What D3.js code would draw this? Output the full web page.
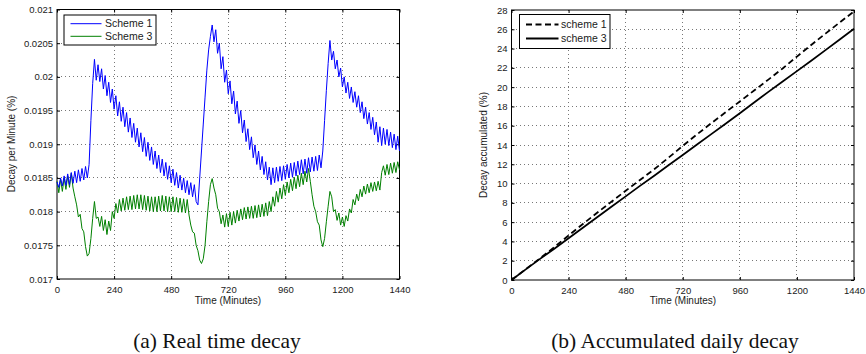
<!DOCTYPE html>
<html>
<head>
<meta charset="utf-8">
<script src="https://cdn.jsdelivr.net/npm/d3@7"></script>
<style>
  html, body { margin: 0; padding: 0; background: #fff; }
  svg { display: block; }
  text { font-family: "Liberation Sans", Arial, Helvetica, sans-serif; fill: #1a1a1a; }
  text.caption { font-family: "Liberation Serif", "Times New Roman", serif; fill: #111; }
</style>
</head>
<body>
<svg id="fig" width="866" height="354"></svg>
<script>
// ---- Real time decay: samples every 7.5 minutes, 0..1440 ----
const sampleStep = 7.5;

const scheme1Rate = [
  .01844,.01836,.01850,.01838,.01853,.01839,.01856,.01840,.01858,.01842,
  .01860,.01843,.01862,.01845,.01864,.01847,.01867,.01850,.01870,.01935,
  .01990,.02026,.01995,.02018,.01993,.02012,.01982,.02002,.01972,.01992,
  .01962,.01982,.01952,.01972,.01942,.01963,.01934,.01955,.01926,.01947,
  .01918,.01939,.01910,.01931,.01903,.01924,.01896,.01917,.01889,.01910,
  .01882,.01903,.01876,.01896,.01870,.01890,.01864,.01884,.01858,.01878,
  .01853,.01873,.01848,.01868,.01843,.01863,.01839,.01858,.01835,.01854,
  .01832,.01850,.01828,.01846,.01825,.01843,.01822,.01840,.01815,.01810,
  .01850,.01890,.01930,.01970,.02010,.02040,.02060,.02077,.02052,.02070,
  .02035,.02050,.02012,.02030,.01992,.02010,.01975,.01994,.01960,.01979,
  .01945,.01964,.01931,.01950,.01917,.01936,.01904,.01923,.01892,.01911,
  .01880,.01899,.01870,.01890,.01862,.01882,.01855,.01874,.01847,.01866,
  .01840,.01865,.01843,.01866,.01845,.01867,.01846,.01868,.01848,.01870,
  .01850,.01872,.01851,.01873,.01853,.01875,.01855,.01877,.01856,.01878,
  .01857,.01880,.01859,.01881,.01860,.01882,.01861,.01884,.01865,.01890,
  .01935,.01980,.02020,.02054,.02025,.02038,.02012,.02025,.02000,.02013,
  .01985,.02000,.01976,.01992,.01968,.01985,.01962,.01978,.01955,.01972,
  .01947,.01963,.01938,.01955,.01930,.01947,.01922,.01940,.01914,.01933,
  .01903,.01926,.01898,.01924,.01900,.01922,.01898,.01918,.01895,.01915,
  .01892,.01912,.01890
];

const scheme3Rate = [
  .01845,.01828,.01848,.01830,.01850,.01833,.01853,.01836,.01857,.01835,
  .01822,.01810,.01792,.01796,.01775,.01770,.01748,.01734,.01738,.01760,
  .01790,.01815,.01790,.01792,.01778,.01793,.01772,.01788,.01766,.01786,
  .01772,.01800,.01790,.01812,.01798,.01818,.01801,.01820,.01802,.01822,
  .01803,.01823,.01803,.01824,.01804,.01825,.01804,.01825,.01803,.01824,
  .01802,.01823,.01801,.01822,.01800,.01822,.01800,.01823,.01801,.01824,
  .01801,.01823,.01800,.01822,.01800,.01822,.01800,.01821,.01799,.01820,
  .01799,.01819,.01798,.01818,.01795,.01780,.01770,.01768,.01750,.01742,
  .01728,.01723,.01730,.01750,.01785,.01815,.01840,.01849,.01835,.01825,
  .01805,.01800,.01782,.01795,.01777,.01797,.01778,.01799,.01780,.01800,
  .01783,.01802,.01786,.01804,.01788,.01806,.01789,.01807,.01790,.01808,
  .01790,.01809,.01791,.01810,.01792,.01811,.01793,.01813,.01794,.01815,
  .01800,.01822,.01808,.01830,.01814,.01835,.01819,.01840,.01824,.01844,
  .01828,.01848,.01831,.01851,.01834,.01854,.01837,.01857,.01840,.01860,
  .01844,.01864,.01845,.01825,.01808,.01800,.01785,.01780,.01758,.01748,
  .01760,.01785,.01808,.01830,.01822,.01800,.01803,.01787,.01798,.01780,
  .01792,.01778,.01794,.01786,.01804,.01798,.01818,.01810,.01826,.01816,
  .01833,.01822,.01838,.01826,.01841,.01828,.01843,.01830,.01844,.01831,
  .01845,.01832,.01858,.01868,.01854,.01870,.01855,.01872,.01857,.01873,
  .01858,.01874,.01862
];

const rateTicks = ["0.017","0.0175","0.018","0.0185","0.019","0.0195","0.02","0.0205","0.021"];
const minuteTicks = [0, 240, 480, 720, 960, 1200, 1440];

// ---- Accumulated daily decay, hourly ----
const accMinutes = [0,60,120,180,240,300,360,420,480,540,600,660,720,780,840,900,960,1020,1080,1140,1200,1260,1320,1380,1440];
const scheme1Acc = [0,1.12,2.25,3.41,4.62,5.81,6.97,8.11,9.25,10.37,11.48,12.68,13.91,15.10,16.26,17.39,18.52,19.65,20.78,21.94,23.17,24.37,25.55,26.71,27.85];
const scheme3Acc = [0,1.10,2.19,3.25,4.33,5.41,6.50,7.59,8.67,9.76,10.82,11.90,12.97,14.05,15.13,16.21,17.30,18.41,19.51,20.58,21.66,22.74,23.84,24.95,26.06];
const accTicks = d3.range(0, 29, 2);

const svg = d3.select("#fig");

function frame(g, x, y, xTicks, yTicks, yLabels) {
  const [x0, x1] = x.range();
  const [y1, y0] = y.range();
  // dotted grid
  const grid = g.append("g").attr("stroke", "#777").attr("stroke-width", 1)
    .attr("stroke-dasharray", "1,3").attr("shape-rendering", "crispEdges");
  grid.selectAll(".gx").data(xTicks.slice(1, -1)).join("line")
    .attr("x1", d => x(d)).attr("x2", d => x(d)).attr("y1", y0).attr("y2", y1);
  grid.selectAll(".gy").data(yTicks.slice(1, -1)).join("line")
    .attr("x1", x0).attr("x2", x1).attr("y1", d => y(d)).attr("y2", d => y(d));

  const fs = "9.5px";
  g.append("g").attr("transform", `translate(0,${y1})`)
    .call(d3.axisBottom(x).tickValues(xTicks).tickSizeInner(-3).tickSizeOuter(0).tickPadding(7)
      .tickFormat(d3.format("d")))
    .call(a => { a.select(".domain").remove(); a.selectAll("text").style("font-size", fs); });
  g.append("g").attr("transform", `translate(0,${y0})`)
    .call(d3.axisTop(x).tickValues(xTicks).tickSizeInner(-3).tickSizeOuter(0).tickFormat(""))
    .call(a => a.select(".domain").remove());
  g.append("g").attr("transform", `translate(${x0},0)`)
    .call(d3.axisLeft(y).tickValues(yTicks).tickSizeInner(-3).tickSizeOuter(0).tickPadding(4)
      .tickFormat((d, i) => yLabels[i]))
    .call(a => { a.select(".domain").remove(); a.selectAll("text").style("font-size", fs); });
  g.append("g").attr("transform", `translate(${x1},0)`)
    .call(d3.axisRight(y).tickValues(yTicks).tickSizeInner(-3).tickSizeOuter(0).tickFormat(""))
    .call(a => a.select(".domain").remove());
  g.selectAll(".tick line").attr("stroke", "#000");
  g.selectAll(".tick text").attr("fill", "#1a1a1a");
  g.append("rect").attr("x", x0).attr("y", y0).attr("width", x1 - x0).attr("height", y1 - y0)
    .attr("fill", "none").attr("stroke", "#000").attr("stroke-width", 1);
}

function legend(g, x, y, w, h, items, lineLen, textGap, rowGap, fontSize) {
  g.append("rect").attr("x", x).attr("y", y).attr("width", w).attr("height", h)
    .attr("fill", "#fff").attr("stroke", "#000").attr("stroke-width", 1);
  items.forEach((it, i) => {
    const cy = y + h / 2 + (i - (items.length - 1) / 2) * rowGap;
    g.append("line").attr("x1", x + 6.5).attr("x2", x + 6.5 + lineLen).attr("y1", cy).attr("y2", cy)
      .attr("stroke", it.color).attr("stroke-width", it.width)
      .attr("stroke-dasharray", it.dash || null);
    g.append("text").attr("x", x + 6.5 + lineLen + textGap).attr("y", cy).attr("dy", "0.35em")
      .style("font-size", fontSize).text(it.label);
  });
}

// ---- (a) Real time decay ----
{
  const g = svg.append("g");
  const x = d3.scaleLinear().domain([0, 1440]).range([57, 399.5]);
  const y = d3.scaleLinear().domain([0.017, 0.021]).range([279, 9.5]);
  const yVals = rateTicks.map(Number);
  frame(g, x, y, minuteTicks, yVals, rateTicks);

  const line = d3.line().x((d, i) => x(i * sampleStep)).y(d => y(d));
  g.append("path").datum(scheme3Rate).attr("d", line)
    .attr("fill", "none").attr("stroke", "#008000").attr("stroke-width", 1).attr("stroke-linejoin", "round");
  g.append("path").datum(scheme1Rate).attr("d", line)
    .attr("fill", "none").attr("stroke", "#0000ff").attr("stroke-width", 1).attr("stroke-linejoin", "round");

  legend(g, 64, 15, 92, 30, [
    { label: "Scheme 1", color: "#0000ff", width: 1 },
    { label: "Scheme 3", color: "#008000", width: 1 }
  ], 31, 3.5, 12.6, "10.5px");

  g.append("text").attr("x", 228).attr("y", 304).attr("text-anchor", "middle")
    .style("font-size", "10px").text("Time (Minutes)");
  g.append("text").attr("transform", "translate(15,144) rotate(-90)").attr("text-anchor", "middle")
    .style("font-size", "10px").text("Decay per Minute (%)");
  g.append("text").attr("class", "caption").attr("x", 217).attr("y", 348).attr("text-anchor", "middle")
    .style("font-size", "21.5px").text("(a)  Real time decay");
}

// ---- (b) Accumulated daily decay ----
{
  const g = svg.append("g");
  const x = d3.scaleLinear().domain([0, 1440]).range([511.5, 854]);
  const y = d3.scaleLinear().domain([0, 28]).range([280, 10]);
  frame(g, x, y, minuteTicks, accTicks, accTicks.map(String));

  const line = d3.line().x((d, i) => x(accMinutes[i])).y(d => y(d));
  g.append("path").datum(scheme3Acc).attr("d", line)
    .attr("fill", "none").attr("stroke", "#000").attr("stroke-width", 1.8);
  g.append("path").datum(scheme1Acc).attr("d", line)
    .attr("fill", "none").attr("stroke", "#000").attr("stroke-width", 1.8).attr("stroke-dasharray", "6,3.5");

  legend(g, 519.5, 14.5, 90.5, 34, [
    { label: "scheme 1", color: "#000", width: 1.8, dash: "6,3.5" },
    { label: "scheme 3", color: "#000", width: 1.8 }
  ], 32.5, 2.5, 14, "10.5px");

  g.append("text").attr("x", 683).attr("y", 304).attr("text-anchor", "middle")
    .style("font-size", "10px").text("Time (Minutes)");
  g.append("text").attr("transform", "translate(487,145) rotate(-90)").attr("text-anchor", "middle")
    .style("font-size", "10px").text("Decay accumulated (%)");
  g.append("text").attr("class", "caption").attr("x", 675).attr("y", 348).attr("text-anchor", "middle")
    .style("font-size", "21.5px").text("(b)  Accumulated daily decay");
}
</script>
</body>
</html>
